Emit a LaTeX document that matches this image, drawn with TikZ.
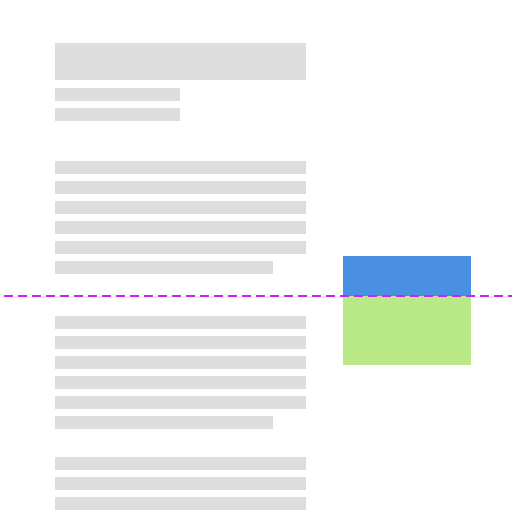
\documentclass[tikz,border=0pt]{standalone}
\definecolor{bargray}{HTML}{DDDDDD}
\definecolor{boxblue}{HTML}{4A90E2}
\definecolor{boxgreen}{HTML}{B8E986}
\definecolor{guide}{RGB}{204,34,238}
\tikzset{
  bar/.style={fill=bargray, draw=none},
  bluebox/.style={fill=boxblue, draw=none},
  greenbox/.style={fill=boxgreen, draw=none},
  guideline/.style={draw=guide, line width=1.5pt, dash pattern=on 9pt off 5pt}
}
\begin{document}
\begin{tikzpicture}[x=1pt,y=-1pt]
\useasboundingbox (0,0) rectangle (512,512);
% title
\fill[bar] (55,43) rectangle (306,80);
\fill[bar] (55,88) rectangle (180,100.5);
\fill[bar] (55,108) rectangle (180,120.5);
% paragraph 1
\foreach \y in {161,181,201,221,241} {\fill[bar] (55,\y) rectangle (306,\y+12.5);}
\fill[bar] (55,261) rectangle (273,273.5);
% paragraph 2
\foreach \y in {316,336,356,376,396} {\fill[bar] (55,\y) rectangle (306,\y+12.5);}
\fill[bar] (55,416) rectangle (273,428.5);
% paragraph 3
\foreach \y in {457,477,497} {\fill[bar] (55,\y) rectangle (306,\y+12.5);}
% boxes
\fill[bluebox] (342.5,256) rectangle (470.5,295.5);
\fill[greenbox] (342.5,295.5) rectangle (470.5,364.5);
% guide
\coordinate (gs) at (4,296);
\coordinate (ge) at (512,296);
\draw[guideline] (gs) -- (ge);
\end{tikzpicture}
\end{document}
